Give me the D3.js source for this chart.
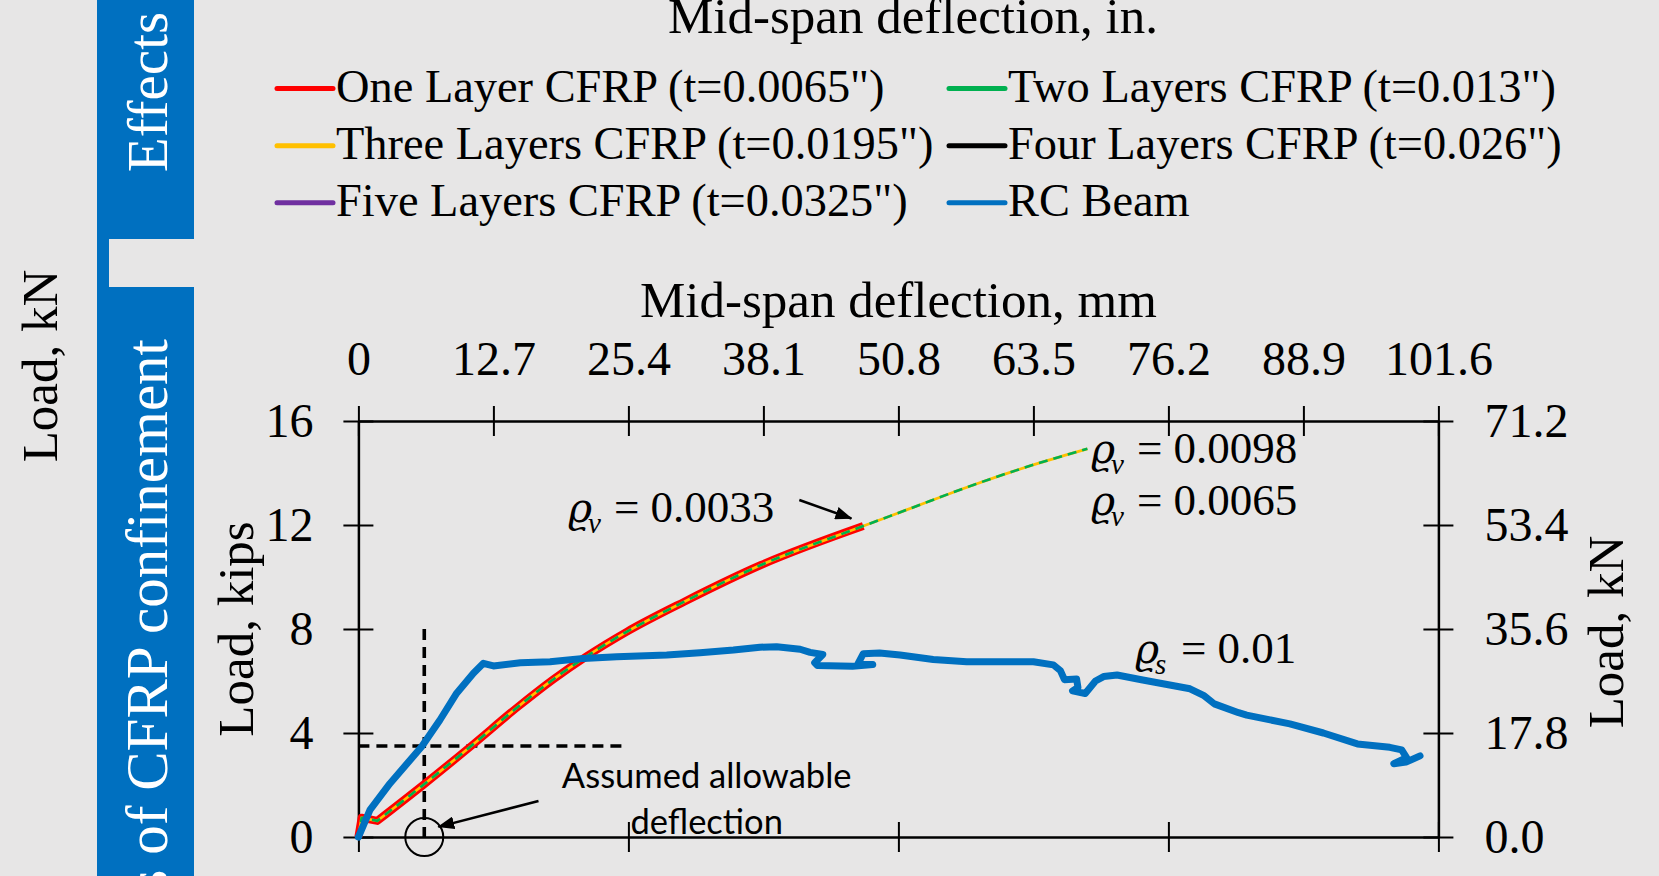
<!DOCTYPE html>
<html><head><meta charset="utf-8">
<script src="https://cdn.jsdelivr.net/npm/d3@7"></script>
<style>
html,body{margin:0;padding:0;background:#e7e6e6;overflow:hidden}
svg{display:block}
</style></head><body>
<svg id="chart" width="1659" height="876"></svg>
<script>
// ---------------- DATA ----------------
const topTickValuesMm = [0, 12.7, 25.4, 38.1, 50.8, 63.5, 76.2, 88.9, 101.6];
const topTickLabels   = ["0", "12.7", "25.4", "38.1", "50.8", "63.5", "76.2", "88.9", "101.6"];
const bottomTickValuesIn = [0, 1, 2, 3, 4];
const leftTickValues  = [0, 4, 8, 12, 16];
const leftTickLabels  = ["0", "4", "8", "12", "16"];
const rightTickValuesKN = [0, 17.8, 35.6, 53.4, 71.2];
const rightTickLabels = ["0.0", "17.8", "35.6", "53.4", "71.2"];

const seriesNames = [
  "One Layer CFRP (t=0.0065\")",
  "Two Layers CFRP (t=0.013\")",
  "Three Layers CFRP (t=0.0195\")",
  "Four Layers CFRP (t=0.026\")",
  "Five Layers CFRP (t=0.0325\")",
  "RC Beam"
];
const seriesColors = ["#ff0000", "#00b050", "#ffc000", "#000000", "#7030a0", "#0070c0"];

// mid-span deflection (in.) and load (kips)
const oneLayerDefl = [0, 0.012, 0.07, 0.24, 0.42, 0.59, 0.72, 0.845, 0.995, 1.207, 1.491, 1.87];
const oneLayerLoad = [0, 0.74, 0.62, 2.0, 3.52, 5.0, 6.05, 6.95, 7.9, 9.05, 10.46, 11.96];

const twoLayersDefl = [0, 0.012, 0.07, 0.24, 0.42, 0.59, 0.72, 0.845, 0.995, 1.207, 1.491, 1.87, 2.03, 2.28, 2.52, 2.70];
const twoLayersLoad = [0, 0.74, 0.62, 2.0, 3.52, 5.0, 6.05, 6.95, 7.9, 9.05, 10.46, 11.96, 12.58, 13.55, 14.38, 14.93];

const threeLayersDefl = [0, 0.012, 0.07, 0.24, 0.42, 0.59, 0.72, 0.845, 0.995, 1.207, 1.491, 1.87, 2.03, 2.28, 2.52, 2.70];
const threeLayersLoad = [0, 0.74, 0.62, 2.0, 3.52, 5.0, 6.05, 6.95, 7.9, 9.05, 10.46, 11.96, 12.58, 13.55, 14.38, 14.93];

const fourLayersDefl = [];
const fourLayersLoad = [];
const fiveLayersDefl = [];
const fiveLayersLoad = [];

const rcBeamDefl = [0, 0.043, 0.117, 0.234, 0.302, 0.364, 0.426, 0.463, 0.50, 0.60, 0.71, 0.833, 0.957, 1.142,
  1.265, 1.389, 1.487, 1.549, 1.636, 1.673, 1.72, 1.69, 1.70, 1.83, 1.905, 1.85, 1.87, 1.93, 2.006, 2.129,
  2.253, 2.376, 2.5, 2.574, 2.60, 2.615, 2.66, 2.665, 2.645, 2.692, 2.73, 2.76, 2.81, 2.90, 3.08, 3.13, 3.17,
  3.26, 3.29, 3.45, 3.574, 3.70, 3.82, 3.864, 3.882, 3.835, 3.88, 3.932];
const rcBeamLoad = [0, 1.04, 2.06, 3.47, 4.5, 5.53, 6.3, 6.68, 6.58, 6.70, 6.74, 6.87, 6.93, 7.0,
  7.09, 7.19, 7.30, 7.32, 7.22, 7.10, 7.02, 6.70, 6.60, 6.57, 6.63, 6.66, 7.05, 7.08, 7.0, 6.83,
  6.74, 6.74, 6.74, 6.62, 6.40, 6.05, 6.08, 5.75, 5.62, 5.52, 6.0, 6.17, 6.23, 6.05, 5.70, 5.45, 5.12,
  4.78, 4.69, 4.35, 4.0, 3.58, 3.45, 3.35, 3.05, 2.82, 2.88, 3.12];

// annotation anchors (in., kips)
const allowableDefl = 0.244;
const allowableLoad = 3.5;

// ---------------- CHART ----------------
const svg = d3.select("#chart");
const serif = "'Liberation Serif','Times New Roman',serif";
const sans = "Lato,'Open Sans',sans-serif";
const ink = "#000";

const x = d3.scaleLinear().domain([0, 4]).range([358.4, 1438.4]);
const y = d3.scaleLinear().domain([0, 16]).range([837, 421]);
const xMm = d3.scaleLinear().domain([0, 101.6]).range(x.range());
const yKN = d3.scaleLinear().domain([0, 71.2]).range(y.range());

// left banner remnants
svg.append("rect").attr("x", 97).attr("y", 0).attr("width", 97).attr("height", 876).attr("fill", "#0070c0");
svg.append("rect").attr("x", 109).attr("y", 239).attr("width", 85).attr("height", 48).attr("fill", "#e7e6e6");
svg.append("text").attr("transform", "translate(167,92) rotate(-90)")
  .attr("text-anchor", "middle").attr("font-family", serif).attr("font-size", 57).attr("fill", "#fff").text("Effects");
svg.append("text").attr("transform", "translate(167,339) rotate(-90)")
  .attr("text-anchor", "end").attr("font-family", serif).attr("font-size", 59).attr("fill", "#fff").text("Effects of CFRP confinement");
svg.append("text").attr("transform", "translate(57,366) rotate(-90)")
  .attr("text-anchor", "middle").attr("font-family", serif).attr("font-size", 51).attr("fill", ink).text("Load, kN");

// top title (belongs to chart above) + legend
svg.append("text").attr("x", 913).attr("y", 33).attr("text-anchor", "middle")
  .attr("font-family", serif).attr("font-size", 51).attr("fill", ink).text("Mid-span deflection, in.");

const legendColX = [277, 949];
const legendRowY = [101.6, 158.7, 215.8];
const leg = svg.append("g").selectAll("g").data(seriesNames).join("g")
  .attr("transform", (d, i) => `translate(${legendColX[i % 2]},${legendRowY[Math.floor(i / 2)]})`);
leg.append("line").attr("x1", 0).attr("x2", 56).attr("y1", -13).attr("y2", -13)
  .attr("stroke", (d, i) => seriesColors[i]).attr("stroke-width", 5).attr("stroke-linecap", "round");
leg.append("text").attr("x", 59).attr("y", 0).attr("font-family", serif).attr("font-size", 46.4)
  .attr("fill", ink).text(d => d);

// axes
function styleAxis(g, size) {
  g.attr("font-family", serif).attr("font-size", size);
  g.selectAll(".domain").attr("stroke", ink).attr("stroke-width", 2.5);
  g.selectAll(".tick line").attr("stroke", ink).attr("stroke-width", 2);
  g.selectAll(".tick text").attr("fill", ink);
}
const gTop = svg.append("g").attr("transform", `translate(0,${y(16)})`)
  .call(d3.axisTop(xMm).tickValues(topTickValuesMm).tickFormat((d, i) => topTickLabels[i])
    .tickSize(15).tickPadding(31).tickSizeOuter(0));
gTop.selectAll(".tick line").attr("y1", 15);
styleAxis(gTop, 48);

const gBottom = svg.append("g").attr("transform", `translate(0,${y(0)})`)
  .call(d3.axisBottom(x).tickValues(bottomTickValuesIn).tickFormat("").tickSize(15).tickSizeOuter(0));
gBottom.selectAll(".tick line").attr("y1", -15);
styleAxis(gBottom, 48);

const gLeft = svg.append("g").attr("transform", `translate(${x(0)},0)`)
  .call(d3.axisLeft(y).tickValues(leftTickValues).tickFormat((d, i) => leftTickLabels[i])
    .tickSize(15).tickPadding(30).tickSizeOuter(0));
gLeft.selectAll(".tick line").attr("x1", 15);
styleAxis(gLeft, 48);

const gRight = svg.append("g").attr("transform", `translate(${x(4)},0)`)
  .call(d3.axisRight(yKN).tickValues(rightTickValuesKN).tickFormat((d, i) => rightTickLabels[i])
    .tickSize(15).tickPadding(31).tickSizeOuter(0));
gRight.selectAll(".tick line").attr("x1", -15);
styleAxis(gRight, 48);

// axis titles
svg.append("text").attr("x", (x(0) + x(4)) / 2).attr("y", 317).attr("text-anchor", "middle")
  .attr("font-family", serif).attr("font-size", 51).attr("fill", ink).text("Mid-span deflection, mm");
svg.append("text").attr("transform", `translate(253,${(y(0) + y(16)) / 2}) rotate(-90)`).attr("text-anchor", "middle")
  .attr("font-family", serif).attr("font-size", 51).attr("fill", ink).text("Load, kips");
svg.append("text").attr("transform", `translate(1623,${(y(0) + y(16)) / 2 + 3}) rotate(-90)`).attr("text-anchor", "middle")
  .attr("font-family", serif).attr("font-size", 51).attr("fill", ink).text("Load, kN");

// allowable-deflection guides
svg.append("line").attr("x1", x(0)).attr("x2", x(1.0)).attr("y1", y(allowableLoad)).attr("y2", y(allowableLoad))
  .attr("stroke", ink).attr("stroke-width", 3.6).attr("stroke-dasharray", "11,7");
svg.append("line").attr("x1", x(allowableDefl)).attr("x2", x(allowableDefl)).attr("y1", y(8)).attr("y2", y(0) + 3)
  .attr("stroke", ink).attr("stroke-width", 3.6).attr("stroke-dasharray", "11,7");
svg.append("circle").attr("cx", x(allowableDefl)).attr("cy", y(0)).attr("r", 19)
  .attr("fill", "none").attr("stroke", ink).attr("stroke-width", 2);

// series
const zip = (xs, ys) => xs.map((v, i) => [v, ys[i]]);
const lin = d3.line().x(d => x(d[0])).y(d => y(d[1]));
const smooth = d3.line().x(d => x(d[0])).y(d => y(d[1])).curve(d3.curveMonotoneX);
// sharp initial seating kink (first 3 points), smooth afterwards
const cfrpPath = pts => lin(pts.slice(0, 3)) + "L" + smooth(pts.slice(2)).slice(1);

const plot = svg.append("g").attr("fill", "none").attr("stroke-linejoin", "round");
plot.append("path").attr("d", cfrpPath(zip(oneLayerDefl, oneLayerLoad))).attr("stroke", seriesColors[0]).attr("stroke-width", 8);
if (fourLayersDefl.length) plot.append("path").attr("d", cfrpPath(zip(fourLayersDefl, fourLayersLoad))).attr("stroke", seriesColors[3]).attr("stroke-width", 3);
if (fiveLayersDefl.length) plot.append("path").attr("d", cfrpPath(zip(fiveLayersDefl, fiveLayersLoad))).attr("stroke", seriesColors[4]).attr("stroke-width", 3);
plot.append("path").attr("d", cfrpPath(zip(threeLayersDefl, threeLayersLoad))).attr("stroke", seriesColors[2]).attr("stroke-width", 2.8);
plot.append("path").attr("d", cfrpPath(zip(twoLayersDefl, twoLayersLoad))).attr("stroke", seriesColors[1]).attr("stroke-width", 2.6)
  .attr("stroke-dasharray", "9,6");
plot.append("path").attr("d", lin(zip(rcBeamDefl, rcBeamLoad))).attr("stroke", seriesColors[5]).attr("stroke-width", 7)
  .attr("stroke-linecap", "round");

// arrows
const defs = svg.append("defs");
defs.append("marker").attr("id", "ah").attr("markerUnits", "userSpaceOnUse").attr("viewBox", "0 0 17 13")
  .attr("refX", 16).attr("refY", 6.5).attr("markerWidth", 17).attr("markerHeight", 13).attr("orient", "auto")
  .append("path").attr("d", "M0,0 L17,6.5 L0,13 z").attr("fill", ink);
function arrow(x1, y1, x2, y2) {
  svg.append("line").attr("x1", x(x1)).attr("y1", y(y1)).attr("x2", x(x2)).attr("y2", y(y2))
    .attr("stroke", ink).attr("stroke-width", 2.5).attr("marker-end", "url(#ah)");
}
arrow(1.633, 12.96, 1.826, 12.25);
arrow(0.667, 1.385, 0.296, 0.39);

// rho labels (single text element each, with subscript tspan)
const rhoLabels = [
  { sub: "v", val: "0.0033", dx: 0.776, ld: 12.13 },
  { sub: "v", val: "0.0098", dx: 2.713, ld: 14.38 },
  { sub: "v", val: "0.0065", dx: 2.713, ld: 12.38 },
  { sub: "s", val: "0.01",   dx: 2.876, ld: 6.69 }
];
const rl = svg.append("g").selectAll("text").data(rhoLabels).join("text")
  .attr("transform", d => `translate(${x(d.dx)},${y(d.ld)})`)
  .attr("font-family", serif).attr("font-size", 45).attr("fill", ink);
rl.append("tspan").attr("x", 0).attr("y", 0).attr("font-family", "'DejaVu Serif',serif")
  .attr("font-style", "italic").attr("font-size", 41).text("\u03F1");
rl.append("tspan").attr("x", 20).attr("y", 11).attr("font-style", "italic").attr("font-size", 29).text(d => d.sub);
rl.append("tspan").attr("x", 46).attr("y", 0).text(d => "= " + d.val);

// allowable deflection note
svg.append("text").attr("x", x(1.29)).attr("y", y(1.873)).attr("text-anchor", "middle")
  .attr("font-family", sans).attr("font-size", 34.5).attr("fill", ink).text("Assumed allowable");
svg.append("text").attr("x", x(1.29)).attr("y", y(0.115)).attr("text-anchor", "middle")
  .attr("font-family", sans).attr("font-size", 34.5).attr("fill", ink).text("deflection");
</script>
</body></html>
